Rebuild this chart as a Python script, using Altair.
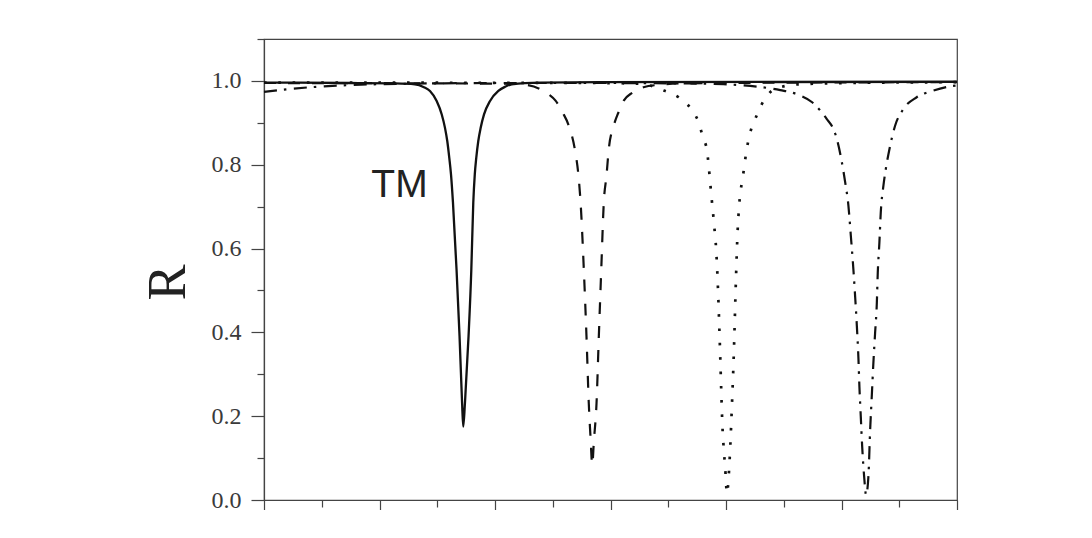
import altair as alt
import pandas as pd

# ---- data ----
solid_x = [0, 0.745, 1.134, 1.307, 1.385, 1.437, 1.495, 1.539, 1.567, 1.587, 1.604, 1.619, 1.636, 1.667, 1.693,
           1.715, 1.725, 1.740, 1.771, 1.795, 1.812, 1.825, 1.838, 1.855, 1.876, 1.905, 1.957, 2.029, 2.087,
           2.145, 2.390, 2.909, 6.0]
solid_r = [0.996, 0.995, 0.994, 0.992, 0.985, 0.976, 0.952, 0.920, 0.888, 0.856, 0.817, 0.777, 0.710, 0.550,
           0.391, 0.232, 0.175, 0.232, 0.391, 0.550, 0.710, 0.777, 0.817, 0.856, 0.888, 0.920, 0.952, 0.976,
           0.986, 0.992, 0.996, 0.997, 0.998]

dashed_x = [0, 1.617, 2.135, 2.282, 2.395, 2.464, 2.524, 2.585, 2.639, 2.691, 2.723, 2.741, 2.769, 2.792, 2.812,
            2.827, 2.842, 2.856, 2.879, 2.899, 2.920, 2.942, 2.965, 2.985, 3.028, 3.069, 3.115, 3.190, 3.285,
            3.432, 3.605, 4.643, 6.0]
dashed_r = [0.995, 0.994, 0.993, 0.990, 0.980, 0.968, 0.953, 0.925, 0.893, 0.837, 0.773, 0.710, 0.550, 0.391,
            0.231, 0.15, 0.084, 0.14, 0.231, 0.391, 0.550, 0.710, 0.773, 0.837, 0.893, 0.925, 0.953, 0.972,
            0.985, 0.991, 0.994, 0.996, 0.997]

dotted_x = [0, 2.913, 3.259, 3.461, 3.590, 3.698, 3.763, 3.801, 3.836, 3.850, 3.873, 3.896, 3.916, 3.928, 3.945,
            3.960, 3.968, 3.979, 3.992, 4.009, 4.023, 4.037, 4.052, 4.066, 4.087, 4.100, 4.115, 4.147, 4.182,
            4.210, 4.253, 4.311, 4.426, 4.643, 5.075, 6.0]
dotted_r = [0.996, 0.995, 0.993, 0.977, 0.961, 0.933, 0.901, 0.865, 0.833, 0.797, 0.727, 0.660, 0.592, 0.522,
            0.387, 0.251, 0.183, 0.128, 0.080, 0.015, 0.056, 0.128, 0.231, 0.335, 0.534, 0.638, 0.706, 0.773,
            0.841, 0.877, 0.909, 0.945, 0.981, 0.992, 0.995, 0.997]

dashdot_x = [0, 0.233, 0.519, 0.839, 1.184, 2.049, 2.913, 3.605, 3.977, 4.210, 4.470, 4.617, 4.746, 4.873, 4.930,
             4.960, 5.003, 5.032, 5.060, 5.081, 5.103, 5.118, 5.133, 5.147, 5.155, 5.167, 5.179, 5.196, 5.213,
             5.233, 5.248, 5.262, 5.276, 5.291, 5.306, 5.314, 5.328, 5.340, 5.363, 5.383, 5.415, 5.464, 5.536,
             5.651, 5.795, 5.939, 6.0]
dashdot_r = [0.974, 0.981, 0.987, 0.991, 0.993, 0.995, 0.995, 0.994, 0.992, 0.988, 0.978, 0.968, 0.949, 0.909,
             0.885, 0.861, 0.806, 0.758, 0.702, 0.630, 0.550, 0.486, 0.415, 0.335, 0.271, 0.199, 0.128, 0.056,
             0.012, 0.056, 0.167, 0.247, 0.327, 0.399, 0.471, 0.542, 0.614, 0.686, 0.750, 0.789, 0.837, 0.893,
             0.933, 0.961, 0.977, 0.987, 0.989]

y_ticks = [0.0, 0.1, 0.2, 0.3, 0.4, 0.5, 0.6, 0.7, 0.8, 0.9, 1.0, 1.1]
x_ticks = [0, 0.5, 1, 1.5, 2, 2.5, 3, 3.5, 4, 4.5, 5, 5.5, 6]

label_text = ["TM"]
label_x = [1.173]
label_y = [0.724]

# ---- build frames ----
def frame(xs, rs):
    return pd.DataFrame({"x": xs, "R": rs, "i": list(range(len(xs)))})

x_enc = alt.X("x:Q", scale=alt.Scale(domain=[0, 6], nice=False, zero=False),
              axis=alt.Axis(values=x_ticks, labels=False, title=None, grid=False,
                            tickSize={"condition": {"test": "abs(datum.value - round(datum.value)) < 0.01", "value": 12}, "value": 7},
                            tickColor="#444", domainColor="#444", tickWidth=1.2, domainWidth=1.2))
y_enc = alt.Y("R:Q", scale=alt.Scale(domain=[0, 1.1], nice=False, zero=False),
              axis=alt.Axis(values=y_ticks, grid=False, title="R",
                            labelExpr="round(datum.value*10) % 2 == 0 ? format(datum.value, '.1f') : ''",
                            tickSize={"condition": {"test": "round(datum.value*10) % 2 == 0", "value": 13}, "value": 7},
                            tickColor="#444", domainColor="#444", tickWidth=1.2, domainWidth=1.2,
                            labelFont="Liberation Serif", labelFontSize=24, labelFontWeight="normal",
                            labelColor="#3a3a3a", labelPadding=10, labelFlush=False,
                            titleFont="Liberation Serif", titleFontSize=54, titleFontWeight="normal",
                            titleColor="#222", titleAngle=270, titleX=-96, titleY=243,
                            titleAlign="center", titleBaseline="middle"))

def line(df, dash, width):
    kw = dict(color="#111", strokeWidth=width, interpolate="monotone")
    if dash:
        kw["strokeDash"] = dash
    return alt.Chart(df).mark_line(**kw).encode(x=x_enc, y=y_enc, order="i:Q")

dashdot = line(frame(dashdot_x, dashdot_r), [13, 7, 2.5, 7.5], 2.2)
dotted = line(frame(dotted_x, dotted_r), [2.6, 11.7], 2.7)
dashed = line(frame(dashed_x, dashed_r), [12, 12], 2.2)
solid = line(frame(solid_x, solid_r), None, 2.3)

text = alt.Chart(pd.DataFrame({"x": label_x, "R": label_y, "t": label_text})).mark_text(
    font="Liberation Sans", fontSize=39, color="#222", align="center", baseline="alphabetic"
).encode(x=alt.X("x:Q"), y=alt.Y("R:Q"), text="t:N")

chart = alt.layer(dashdot, dotted, dashed, solid, text).properties(
    width=693, height=461,
    autosize=alt.AutoSizeParams(type="none"),
    padding={"left": 256, "top": 31, "right": 10, "bottom": 10},
    background="white",
).configure_view(stroke="#444", strokeWidth=1.2)

chart.save("out.html", embed_options={"renderer": "svg", "actions": False})
